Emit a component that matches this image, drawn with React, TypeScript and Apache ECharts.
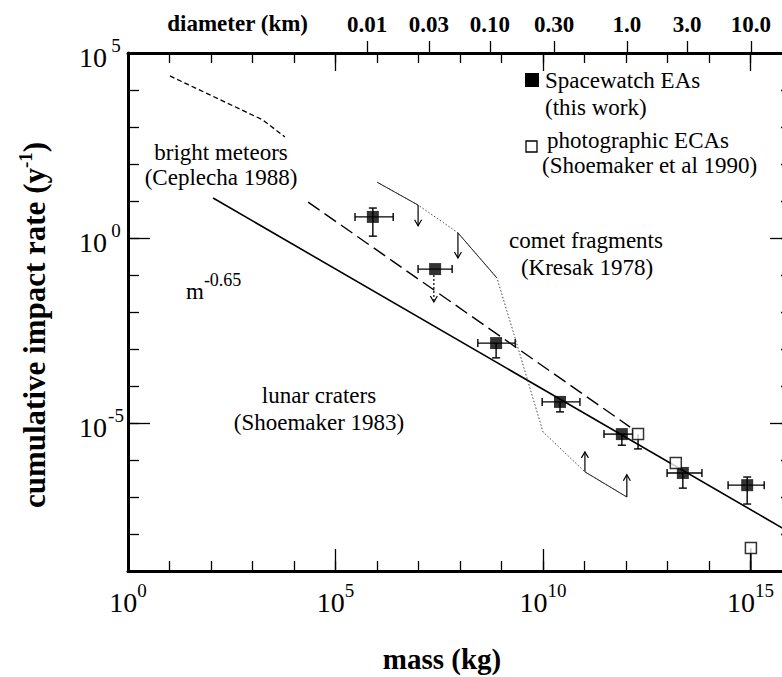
import React, { useEffect, useRef } from "react";
import * as echarts from "echarts";

// All values are log10: mass in kg, cumulative impact rate in 1/yr
const massLabelTicks = [0, 5, 10, 15];
const rateLabelTicks = [-5, 0, 5];
const diameterLabels = ["0.01", "0.03", "0.10", "0.30", "1.0", "3.0", "10.0"];
const diameterTickMass = [5.76, 7.25, 8.72, 10.27, 12.02, 13.47, 15.01];

// Spacewatch EAs (this work)
const swMass = [5.9, 7.4, 8.87, 10.41, 11.9, 13.37, 14.92];
const swRate = [0.57, -0.84, -2.84, -4.43, -5.3, -6.35, -6.68];
const swMassLo = [5.47, 6.99, 8.43, 9.98, 11.47, 12.99, 14.46];
const swMassHi = [6.39, 7.81, 9.33, 10.89, 12.17, 13.83, 15.33];
const swRateLo = [0.05, -0.84, -3.24, -4.7, -5.6, -6.76, -7.19];
const swRateHi = [0.81, -0.84, -2.84, -4.43, -5.3, -6.35, -6.46];
// upper-limit arrow under the second Spacewatch point
const swLimitMass = [7.37];
const swLimitFrom = [-1.0];
const swLimitTo = [-1.73];

// photographic ECAs (Shoemaker et al 1990)
const ecaMass = [12.29, 13.2, 15.01];
const ecaRate = [-5.3, -6.08, -8.38];
const ecaRateLo = [-5.7, -6.08, -9.0];

// lunar craters (Shoemaker 1983), m^-0.65
const lunarMass = [2.05, 16];
const lunarRate = [1.08, -7.99];

// bright meteors (Ceplecha 1988)
const meteorMass = [1.01, 3.25, 3.78];
const meteorRate = [4.38, 3.19, 2.73];

// long-dashed Spacewatch line
const fitMass = [4.34, 12.1];
const fitRate = [0.97, -5.11];

// comet fragments (Kresak 1978)
const cometMass = [6.0, 6.99, 7.95, 8.89, 9.3, 10.0, 11.01, 12.02];
const cometRate = [1.51, 0.89, 0.14, -1.08, -2.6, -5.24, -6.32, -7.0];
const cometSolidFrom = [0, 2, 6];
const cometArrowMass = [6.99, 7.95, 11.01, 12.02];
const cometArrowFrom = [0.89, 0.14, -6.32, -7.0];
const cometArrowTo = [0.33, -0.54, -5.78, -6.4];

const FONT = "'Liberation Serif', 'Times New Roman', serif";
const BLACK = "#000";

function expLabel(v: number) {
  const r = Math.round(v);
  return `{b|10}{s|${r}}`;
}

const arrowRender = (dashed: boolean) => (params: any, api: any) => {
  const x = api.value(0);
  const p1 = api.coord([x, api.value(1)]);
  const p2 = api.coord([x, api.value(2)]);
  const dir = p2[1] > p1[1] ? 1 : -1;
  return {
    type: "group",
    children: [
      {
        type: "line",
        shape: { x1: p1[0], y1: p1[1], x2: p2[0], y2: p2[1] },
        style: { stroke: BLACK, lineWidth: 1.2, lineDash: dashed ? [2, 2] : null },
      },
      {
        type: "polyline",
        shape: {
          points: [
            [p2[0] - 3.5, p2[1] - dir * 6],
            [p2[0], p2[1]],
            [p2[0] + 3.5, p2[1] - dir * 6],
          ],
        },
        style: { stroke: BLACK, lineWidth: 1.2, fill: "none" },
      },
    ],
  };
};

const errorRender = (params: any, api: any) => {
  const x = api.value(0);
  const y = api.value(1);
  const xl = api.value(2);
  const xh = api.value(3);
  const yl = api.value(4);
  const yh = api.value(5);
  const st = { stroke: BLACK, lineWidth: 1.4 };
  const children: any[] = [];
  const pL = api.coord([xl, y]);
  const pH = api.coord([xh, y]);
  if (xh > xl) {
    children.push({ type: "line", shape: { x1: pL[0], y1: pL[1], x2: pH[0], y2: pH[1] }, style: st });
    children.push({ type: "line", shape: { x1: pL[0], y1: pL[1] - 4, x2: pL[0], y2: pL[1] + 4 }, style: st });
    children.push({ type: "line", shape: { x1: pH[0], y1: pH[1] - 4, x2: pH[0], y2: pH[1] + 4 }, style: st });
  }
  const pB = api.coord([x, yl]);
  const pT = api.coord([x, yh]);
  if (yh > yl) {
    children.push({ type: "line", shape: { x1: pB[0], y1: pB[1], x2: pT[0], y2: pT[1] }, style: st });
    if (yl < y) children.push({ type: "line", shape: { x1: pB[0] - 4, y1: pB[1], x2: pB[0] + 4, y2: pB[1] }, style: st });
    if (yh > y) children.push({ type: "line", shape: { x1: pT[0] - 4, y1: pT[1], x2: pT[0] + 4, y2: pT[1] }, style: st });
  }
  return { type: "group", children };
};

function txt(x: number, y: number, text: string, extra: any = {}) {
  const align = extra.align || "center";
  return {
    type: "text",
    x,
    y,
    rotation: extra.rotation || 0,
    z: 100,
    style: {
      text,
      fill: BLACK,
      fontFamily: FONT,
      fontSize: extra.fontSize || 23,
      fontWeight: extra.fontWeight || "normal",
      textAlign: align,
      align,
      textVerticalAlign: "middle",
      verticalAlign: "middle",
      rich: extra.rich,
    },
  };
}

export default function App() {
  const ref = useRef<HTMLDivElement>(null);
  useEffect(() => {
    if (!ref.current) return;
    const chart = echarts.init(ref.current, undefined, { renderer: "svg" });

    const tickLine = { color: BLACK, width: 1.3 };
    const baseAxis = {
      type: "value",
      splitLine: { show: false },
      minorTick: { show: false },
    };
    const xBase = { ...baseAxis, min: 0, max: 16 };
    const yBase = { ...baseAxis, min: -9, max: 5 };

    const xRich = {
      b: { fontFamily: FONT, fontSize: 28, color: BLACK },
      s: { fontFamily: FONT, fontSize: 19, color: BLACK, padding: [0, 0, 24, 0] },
    };
    const yRich = {
      b: { fontFamily: FONT, fontSize: 28, color: BLACK, padding: [8, 0, 0, 0] },
      s: { fontFamily: FONT, fontSize: 19, color: BLACK, padding: [0, 0, 16, 0], width: 18, align: "left" },
    };

    const option: any = {
      animation: false,
      backgroundColor: "#fff",
      grid: { left: 128, top: 53, width: 664, height: 518, containLabel: false, outerBoundsMode: "none" },
      xAxis: [
        {
          ...xBase,
          position: "bottom",
          interval: 1,
          axisLine: { show: true, onZero: false, lineStyle: { color: BLACK, width: 3 } },
          axisTick: { show: true, inside: true, length: 10, lineStyle: tickLine },
          axisLabel: {
            show: true,
            customValues: massLabelTicks,
            formatter: (v: number) => expLabel(v),
            rich: xRich,
            margin: 10,
          },
        },
        {
          ...xBase,
          position: "bottom",
          axisLine: { show: false, onZero: false },
          axisTick: { show: true, inside: true, length: 22, customValues: [5, 10, 15], lineStyle: tickLine },
          axisLabel: { show: false },
        },
        {
          ...xBase,
          position: "top",
          interval: 1,
          axisLine: { show: true, onZero: false, lineStyle: { color: BLACK, width: 3 } },
          axisTick: { show: true, inside: true, length: 10, lineStyle: tickLine },
          axisLabel: { show: false },
        },
        {
          ...xBase,
          position: "top",
          axisLine: { show: false, onZero: false },
          axisTick: { show: true, inside: true, length: 18, customValues: [5, 10, 15], lineStyle: tickLine },
          axisLabel: { show: false },
        },
        {
          ...xBase,
          position: "top",
          axisLine: { show: false, onZero: false },
          axisTick: { show: true, inside: false, length: 12, customValues: diameterTickMass, lineStyle: tickLine },
          axisLabel: {
            show: true,
            customValues: diameterTickMass,
            formatter: (v: number) => {
              const i = diameterTickMass.findIndex((m) => Math.abs(m - v) < 1e-6);
              return i >= 0 ? diameterLabels[i] : "";
            },
            fontFamily: FONT,
            fontWeight: "bold",
            fontSize: 23,
            color: BLACK,
            margin: 17,
          },
        },
      ],
      yAxis: [
        {
          ...yBase,
          position: "left",
          interval: 1,
          axisLine: { show: true, onZero: false, lineStyle: { color: BLACK, width: 3 } },
          axisTick: { show: true, inside: true, length: 11, lineStyle: tickLine },
          axisLabel: {
            show: true,
            customValues: rateLabelTicks,
            formatter: (v: number) => expLabel(v),
            rich: yRich,
            margin: 3,
          },
        },
        {
          ...yBase,
          position: "left",
          axisLine: { show: false, onZero: false },
          axisTick: { show: true, inside: true, length: 22, customValues: [-5, 0], lineStyle: tickLine },
          axisLabel: { show: false },
        },
        {
          ...yBase,
          position: "right",
          interval: 1,
          axisLine: { show: true, onZero: false, lineStyle: { color: BLACK, width: 3 } },
          axisTick: { show: true, inside: true, length: 11, lineStyle: tickLine },
          axisLabel: { show: false },
        },
        {
          ...yBase,
          position: "right",
          axisLine: { show: false, onZero: false },
          axisTick: { show: true, inside: true, length: 22, customValues: [-5, 0], lineStyle: tickLine },
          axisLabel: { show: false },
        },
      ],
      series: [
        {
          name: "lunar craters",
          type: "line",
          data: lunarMass.map((m, i) => [m, lunarRate[i]]),
          symbol: "none",
          lineStyle: { color: BLACK, width: 1.6 },
          silent: true,
        },
        {
          name: "bright meteors",
          type: "line",
          data: meteorMass.map((m, i) => [m, meteorRate[i]]),
          symbol: "none",
          lineStyle: { color: BLACK, width: 1.3, type: [5, 3] },
          silent: true,
        },
        {
          name: "Spacewatch trend",
          type: "line",
          data: fitMass.map((m, i) => [m, fitRate[i]]),
          symbol: "none",
          lineStyle: { color: BLACK, width: 1.4, type: [14, 6] },
          silent: true,
        },
        {
          name: "comet fragments",
          type: "line",
          data: cometMass.map((m, i) => [m, cometRate[i]]),
          symbol: "none",
          lineStyle: { color: "#444", width: 1, type: [1.5, 2] },
          silent: true,
        },
        {
          name: "comet fragments solid",
          type: "lines",
          coordinateSystem: "cartesian2d",
          data: cometSolidFrom.map((i) => ({
            coords: [
              [cometMass[i], cometRate[i]],
              [cometMass[i + 1], cometRate[i + 1]],
            ],
          })),
          lineStyle: { color: "#222", width: 1, opacity: 1 },
          silent: true,
        },
        {
          name: "comet limits",
          type: "custom",
          data: cometArrowMass.map((m, i) => [m, cometArrowFrom[i], cometArrowTo[i]]),
          renderItem: arrowRender(false),
          silent: true,
        },
        {
          name: "Spacewatch limit",
          type: "custom",
          data: swLimitMass.map((m, i) => [m, swLimitFrom[i], swLimitTo[i]]),
          renderItem: arrowRender(true),
          silent: true,
        },
        {
          name: "Spacewatch error",
          type: "custom",
          data: swMass.map((m, i) => [m, swRate[i], swMassLo[i], swMassHi[i], swRateLo[i], swRateHi[i]]),
          renderItem: errorRender,
          silent: true,
        },
        {
          name: "ECA error",
          type: "custom",
          data: ecaMass.map((m, i) => [m, ecaRate[i], m, m, ecaRateLo[i], ecaRate[i]]),
          renderItem: errorRender,
          silent: true,
        },
        {
          name: "Spacewatch EAs",
          type: "scatter",
          data: swMass.map((m, i) => [m, swRate[i]]),
          symbol: "rect",
          symbolSize: 12,
          itemStyle: { color: BLACK },
          z: 5,
          silent: true,
        },
        {
          name: "photographic ECAs",
          type: "scatter",
          data: ecaMass.map((m, i) => [m, ecaRate[i]]),
          symbol: "rect",
          symbolSize: 11,
          itemStyle: { color: "#fff", borderColor: BLACK, borderWidth: 1.5 },
          z: 5,
          silent: true,
        },
      ],
      graphic: [
        txt(308, 23, "diameter (km)", { align: "right", fontWeight: "bold", fontSize: 23 }),
        txt(442, 659, "mass (kg)", { fontWeight: "bold", fontSize: 29 }),
        txt(34, 325, "cumulative impact rate (y{s|-1})", {
          fontWeight: "bold",
          fontSize: 31,
          rotation: Math.PI / 2,
          rich: { s: { fontFamily: FONT, fontWeight: "bold", fontSize: 19, padding: [0, 0, 17, 0] } },
        }),
        { type: "rect", shape: { x: 525, y: 73, width: 14, height: 14 }, style: { fill: BLACK }, z: 100 },
        txt(545, 80, "Spacewatch EAs", { align: "left" }),
        txt(545, 107, "(this work)", { align: "left" }),
        { type: "rect", shape: { x: 526, y: 141, width: 11, height: 11 }, style: { fill: "#fff", stroke: BLACK, lineWidth: 1.3 }, z: 100 },
        txt(547, 140, "photographic ECAs", { align: "left" }),
        txt(542, 165, "(Shoemaker et al 1990)", { align: "left" }),
        txt(221, 152, "bright meteors"),
        txt(221, 177, "(Ceplecha 1988)"),
        txt(586, 240, "comet fragments"),
        txt(587, 267, "(Kresak 1978)"),
        txt(186, 291, "m{s|-0.65}", {
          align: "left",
          rich: { s: { fontFamily: FONT, fontSize: 18, padding: [0, 0, 22, 0] } },
        }),
        txt(319, 395, "lunar craters"),
        txt(319, 422, "(Shoemaker 1983)"),
      ],
    };

    chart.setOption(option);
    return () => chart.dispose();
  }, []);

  return (
    <div
      ref={ref}
      style={{ width: 782, height: 677, position: "absolute", left: 0, top: 0, background: "#fff" }}
    />
  );
}
